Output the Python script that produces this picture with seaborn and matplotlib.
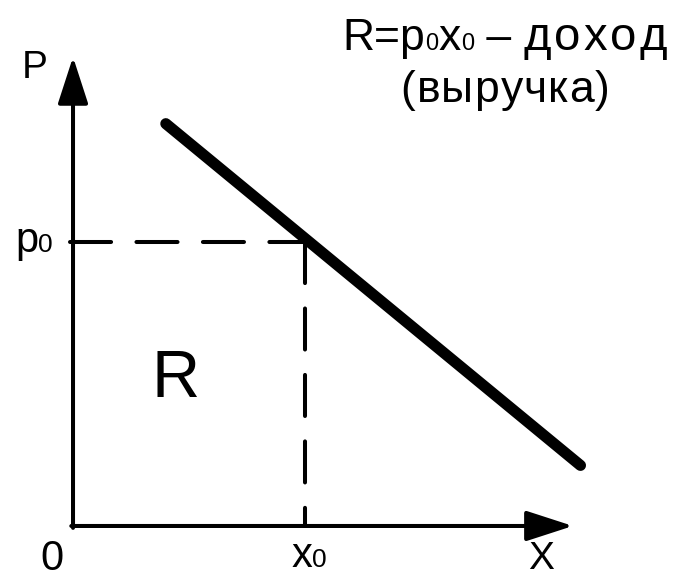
import matplotlib
matplotlib.use("Agg")
import matplotlib.pyplot as plt
from matplotlib.transforms import offset_copy
import seaborn as sns

# ---- data (arbitrary economic units) ----
demand_x = [1.6, 8.75]      # quantity X at the ends of the demand line
demand_p = [8.5, 1.28]      # price P at the ends of the demand line
x0 = 4.0                    # chosen quantity
p0 = 6.0                    # corresponding price
axis_x_end = 8.62           # length of X axis (arrow tip)
axis_p_end = 9.91           # length of P axis (arrow tip)

label_axis_p = "P"
label_axis_x = "X"
label_origin = "0"
label_area = "R"
# (text, font size, extra letter spacing in pixels)
title_line1 = [("R=p", 32, 0), ("0", 17, 0), ("x", 32, 0), ("0", 17, 0),
               (" – ", 32, 0), ("доход", 34, 3.0)]
title_line2 = [("(выручка)", 32, 1.2)]
label_p0 = [("p", 30, 0), ("0", 19, 0)]
label_x0 = [("x", 30, 0), ("0", 19, 0)]

sns.set_theme(style="white")
plt.rcParams["font.family"] = ["Liberation Sans", "DejaVu Sans"]
plt.rcParams["text.color"] = "black"

fig = plt.figure(figsize=(6.97, 5.77), dpi=100)
ax = fig.add_axes([0, 0, 1, 1])
ax.set_xlim(-1.259, 10.759)
ax.set_ylim(-1.078, 11.113)
ax.axis("off")

# demand line
sns.lineplot(x=demand_x, y=demand_p, ax=ax, color="black", linewidth=8,
             solid_capstyle="round", sort=False)

# dashed guides
dash = (0, (10.2, 6.3))
ax.plot([-0.06, x0], [p0, p0], color="black", lw=2.9, linestyle=dash,
        dash_capstyle="round")
ax.plot([x0, x0], [p0, 0], color="black", lw=2.9, linestyle=dash,
        dash_capstyle="round")

# axes with arrows
arrow_kw = dict(arrowstyle="-|>,head_length=29,head_width=9.4",
                mutation_scale=1, color="black", lw=2.9,
                shrinkA=0, shrinkB=0)
ax.annotate("", xy=(0, axis_p_end), xytext=(0, -0.04), arrowprops=arrow_kw)
ax.annotate("", xy=(axis_x_end, 0), xytext=(-0.03, 0), arrowprops=arrow_kw)

fig.canvas.draw()
renderer = fig.canvas.get_renderer()


def draw_runs(x, y, parts, ha="left"):
    items = []
    for s, size, track in parts:
        pieces = list(s) if track else [s]
        for i, ch in enumerate(pieces):
            t = ax.text(x, y, ch, fontsize=size, va="baseline", ha="left",
                        color="black")
            w = t.get_window_extent(renderer).width
            if track and i < len(pieces) - 1:
                w += track
            items.append((t, w))
    total = sum(w for _, w in items)
    off = -total / 2 if ha == "center" else 0
    for t, w in items:
        t.set_transform(offset_copy(ax.transData, fig=fig, x=off, y=0,
                                    units="dots"))
        off += w


ax.text(-0.655, 9.47, label_axis_p, fontsize=28, ha="center",
        va="baseline", color="black")
ax.text(8.07, -0.9, label_axis_x, fontsize=28, ha="center",
        va="baseline", color="black")
ax.text(-0.362, -0.92, label_origin, fontsize=30, ha="center",
        va="baseline", color="black")
ax.text(1.776, 2.725, label_area, fontsize=48, ha="center",
        va="baseline", color="black")

draw_runs(-0.995, 5.79, label_p0)
draw_runs(3.76, -0.866, label_x0)
draw_runs(7.448, 10.06, title_line1, ha="center")
draw_runs(7.448, 8.96, title_line2, ha="center")

fig.savefig("out.png", dpi=100, facecolor="white")
